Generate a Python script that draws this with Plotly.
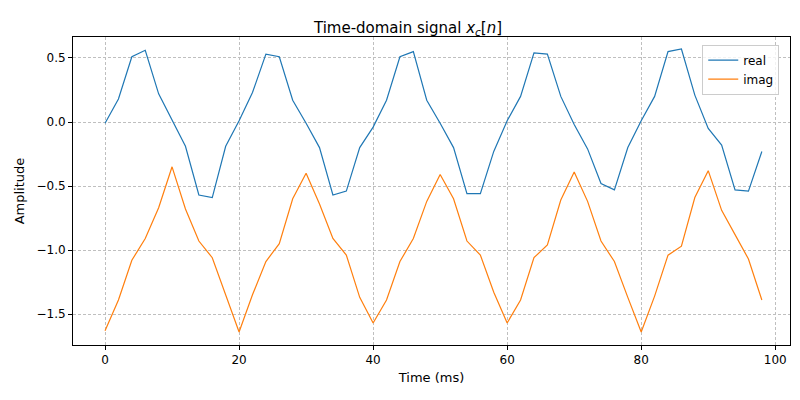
import plotly.graph_objects as go

time_ms = list(range(0, 100, 2))
real_vals = [-0.01,0.18,0.51,0.56,0.22,0.01,-0.19,-0.57,-0.59,-0.19,
             0.01,0.23,0.53,0.51,0.17,-0.01,-0.20,-0.57,-0.54,-0.20,
             -0.04,0.17,0.51,0.55,0.17,-0.01,-0.20,-0.56,-0.56,-0.23,
             0.01,0.20,0.54,0.53,0.20,-0.02,-0.21,-0.48,-0.53,-0.20,
             0.01,0.20,0.55,0.57,0.21,-0.05,-0.18,-0.53,-0.54,-0.23]
imag_vals = [-1.63,-1.39,-1.08,-0.91,-0.67,-0.35,-0.68,-0.93,-1.06,-1.35,
             -1.64,-1.35,-1.09,-0.95,-0.60,-0.40,-0.64,-0.91,-1.04,-1.37,
             -1.57,-1.39,-1.09,-0.91,-0.62,-0.41,-0.60,-0.93,-1.04,-1.33,
             -1.57,-1.39,-1.06,-0.96,-0.61,-0.39,-0.62,-0.93,-1.09,-1.37,
             -1.64,-1.36,-1.04,-0.97,-0.59,-0.38,-0.69,-0.88,-1.07,-1.39]

fig = go.Figure()
fig.add_trace(go.Scatter(x=time_ms, y=real_vals, mode="lines", name="real",
                         line=dict(color="#1f77b4", width=1.2)))
fig.add_trace(go.Scatter(x=time_ms, y=imag_vals, mode="lines", name="imag",
                         line=dict(color="#ff7f0e", width=1.2)))

axis_common = dict(showline=True, mirror=True, linecolor="black", linewidth=1,
                   ticks="outside", ticklen=4, tickcolor="black",
                   showgrid=True, gridcolor="#bfbfbf", griddash="3px,2px", gridwidth=0.8,
                   zeroline=False, tickfont=dict(size=12, color="black"))

fig.update_layout(
    width=800, height=400,
    paper_bgcolor="white", plot_bgcolor="white",
    font=dict(family="DejaVu Sans", size=12, color="black"),
    margin=dict(l=65, r=18, t=29, b=63),
    title=dict(text="Time-domain signal <i>x<sub>c</sub></i>[<i>n</i>]", x=0.5, xanchor="center",
               y=0.965, font=dict(size=15)),
    xaxis=dict(range=[-4.78, 102.2], tickvals=[0,20,40,60,80,100],
               title=dict(text="Time (ms)", standoff=6, font=dict(size=13)), **axis_common),
    yaxis=dict(range=[-1.742, 0.664], tickvals=[0.5,0,-0.5,-1,-1.5],
               ticktext=["0.5","0.0","−0.5","−1.0","−1.5"],
               title=dict(text="Amplitude", standoff=8, font=dict(size=13)), **axis_common),
    legend=dict(x=0.985, y=0.975, xanchor="right", yanchor="top",
                bordercolor="#cccccc", borderwidth=1, bgcolor="rgba(255,255,255,0.8)",
                font=dict(size=12)),
)

fig.write_html("out.html")
